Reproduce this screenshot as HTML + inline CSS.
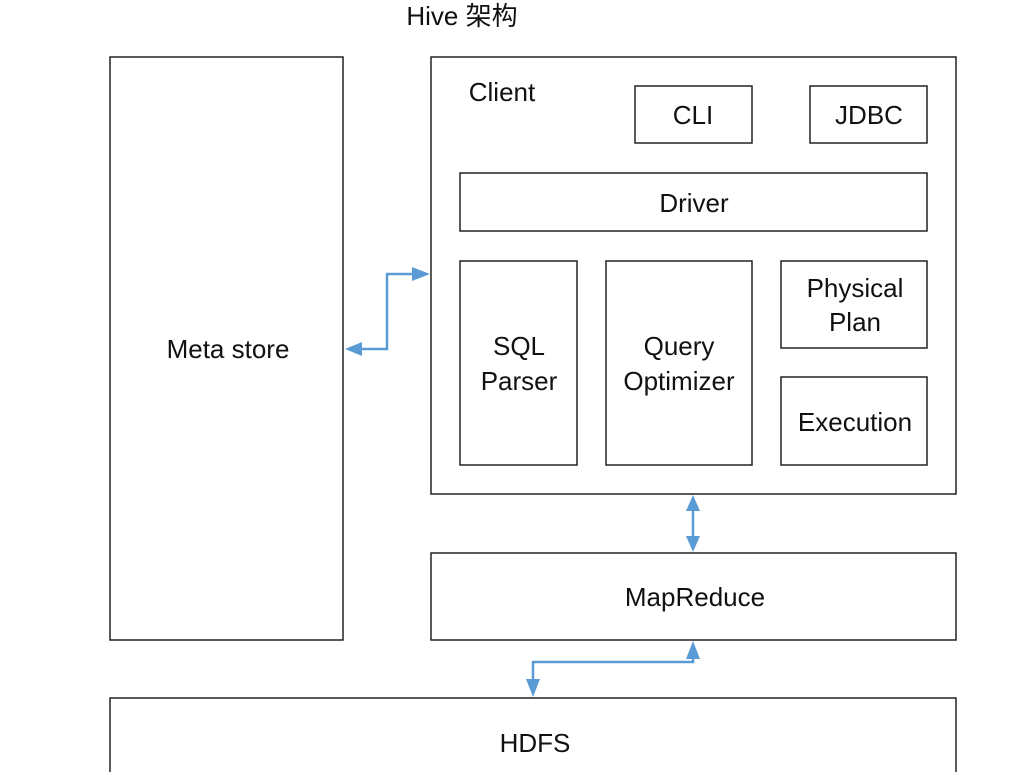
<!DOCTYPE html>
<html><head><meta charset="utf-8"><style>
html,body{margin:0;padding:0;background:#fff;}
svg{display:block;}
text{font-family:"Liberation Sans","Noto Sans CJK SC",sans-serif;font-size:26px;fill:#111;text-anchor:middle;}
rect{fill:none;stroke:#222;stroke-width:1.5;}
.a{stroke:#5b9bd5;stroke-width:2.5;fill:none;}
.h{fill:#5b9bd5;stroke:none;}
</style></head><body>
<svg width="1009" height="772" viewBox="0 0 1009 772">
<text x="462" y="25">Hive 架构</text>
<rect x="110" y="57" width="233" height="583"/>
<text x="228" y="358">Meta store</text>
<rect x="431" y="57" width="525" height="437"/>
<text x="502" y="101">Client</text>
<rect x="635" y="86" width="117" height="57"/>
<text x="693" y="124">CLI</text>
<rect x="810" y="86" width="117" height="57"/>
<text x="869" y="124">JDBC</text>
<rect x="460" y="173" width="467" height="58"/>
<text x="694" y="212">Driver</text>
<rect x="460" y="261" width="117" height="204"/>
<text x="519" y="355">SQL</text><text x="519" y="390">Parser</text>
<rect x="606" y="261" width="146" height="204"/>
<text x="679" y="355">Query</text><text x="679" y="390">Optimizer</text>
<rect x="781" y="261" width="146" height="87"/>
<text x="855" y="297">Physical</text><text x="855" y="331">Plan</text>
<rect x="781" y="377" width="146" height="88"/>
<text x="855" y="431">Execution</text>
<rect x="431" y="553" width="525" height="87"/>
<text x="695" y="606">MapReduce</text>
<rect x="110" y="698" width="846" height="90"/>
<text x="535" y="752">HDFS</text>
<polyline class="a" points="360,349 387,349 387,274 415,274"/>
<polygon class="h" points="345,349 362,342 362,356"/>
<polygon class="h" points="430,274 412,267 412,281"/>
<line class="a" x1="693" y1="510" x2="693" y2="537"/>
<polygon class="h" points="693,495 686,511 700,511"/>
<polygon class="h" points="693,552 686,536 700,536"/>
<polyline class="a" points="693,655 693,662 533,662 533,682"/>
<polygon class="h" points="693,641 686,659 700,659"/>
<polygon class="h" points="533,697 526,679 540,679"/>
</svg>
</body></html>
